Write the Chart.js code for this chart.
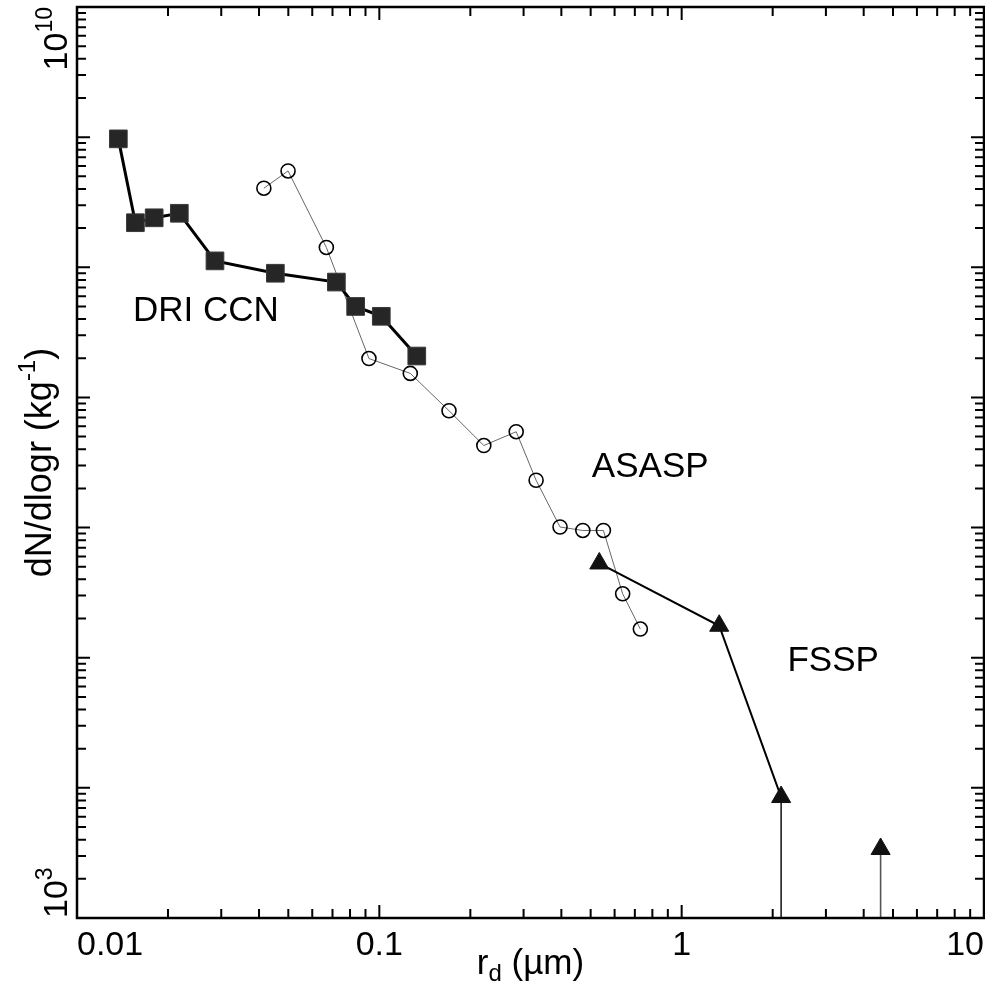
<!DOCTYPE html>
<html>
<head>
<meta charset="utf-8">
<script src="https://cdn.jsdelivr.net/npm/chart.js@4"></script>
<style>
  body { margin: 0; background: #fff; overflow: hidden; }
  #wrap { width: 985px; height: 990px; }
  canvas { display: block; }
</style>
</head>
<body>
<div id="wrap"><canvas id="chart" width="985" height="990"></canvas></div>
<script>
// DRI CCN (filled squares)
const driX = [0.0137, 0.0156, 0.0180, 0.0218, 0.0286, 0.0453, 0.0721, 0.0835, 0.1015, 0.133];
const driY = [9.7e8, 2.2e8, 2.4e8, 2.6e8, 1.12e8, 9.0e7, 7.7e7, 5.0e7, 4.2e7, 2.08e7];

// ASASP (open circles)
const asaspX = [0.0415, 0.0499, 0.0668, 0.0924, 0.1266, 0.170, 0.2216, 0.2836, 0.330, 0.396, 0.471, 0.551, 0.638, 0.730];
const asaspY = [4.05e8, 5.5e8, 1.42e8, 1.99e7, 1.53e7, 7.9e6, 4.27e6, 5.45e6, 2.31e6, 1.01e6, 9.5e5, 9.5e5, 3.1e5, 1.66e5];

// FSSP (filled triangles), last two have drop lines to the axis
const fsspX = [0.534, 1.331, 2.133, 4.55];
const fsspY = [5.3e5, 1.76e5, 8.5e3, 3.39e3];

// axis ranges and tick labels
const xMin = 0.01, xMax = 10;
const yMin = 1e3, yMax = 1e10;
const xTickLabels = [[0.01, '0.01'], [0.1, '0.1'], [1, '1'], [10, '10']];
const yTickLabels = [[1e3, '10', '3'], [1e10, '10', '10']];

// text labels inside the plot (data coords)
const notes = [
  { text: 'DRI CCN', x: 0.0267, y: 4.75e7 },
  { text: 'ASASP', x: 0.787, y: 3.0e6 },
  { text: 'FSSP', x: 3.17, y: 9.66e4 }
];

const FONT = '"Liberation Sans", Arial, Helvetica, sans-serif';

function pts(xs, ys) {
  return xs.map((x, i) => ({ x: x, y: ys[i] }));
}

// frame, inward ticks, labels and titles
const framePlugin = {
  id: 'frame',
  afterDraw(chart) {
    const ctx = chart.ctx;
    const a = chart.chartArea;
    const xs = chart.scales.x, ys = chart.scales.y;
    ctx.save();
    ctx.strokeStyle = '#000';
    ctx.fillStyle = '#000';

    // ticks on all four sides
    ctx.lineWidth = 2;
    ctx.beginPath();
    for (let k = -2; k <= 1; k++) {
      for (let m = 1; m <= 9; m++) {
        const v = m * Math.pow(10, k);
        if (v < xMin * 0.999 || v > xMax * 1.001) continue;
        const px = xs.getPixelForValue(v);
        const len = m === 1 ? 13 : 9;
        ctx.moveTo(px, a.bottom); ctx.lineTo(px, a.bottom - len);
        ctx.moveTo(px, a.top); ctx.lineTo(px, a.top + len);
      }
    }
    for (let k = 3; k <= 10; k++) {
      for (let m = 1; m <= 9; m++) {
        const v = m * Math.pow(10, k);
        if (v < yMin * 0.999 || v > yMax * 1.001) continue;
        const py = ys.getPixelForValue(v);
        const len = m === 1 ? 13 : 9;
        ctx.moveTo(a.left, py); ctx.lineTo(a.left + len, py);
        ctx.moveTo(a.right, py); ctx.lineTo(a.right - len, py);
      }
    }
    ctx.stroke();

    // box
    ctx.lineWidth = 2.5;
    ctx.strokeRect(a.left, a.top, a.right - a.left, a.bottom - a.top);

    // x tick labels
    ctx.font = '34px ' + FONT;
    ctx.textBaseline = 'alphabetic';
    xTickLabels.forEach(([v, t], i) => {
      const px = xs.getPixelForValue(v);
      if (i === 0) { ctx.textAlign = 'left'; ctx.fillText(t, px, 955); }
      else if (i === xTickLabels.length - 1) { ctx.textAlign = 'right'; ctx.fillText(t, px, 955); }
      else { ctx.textAlign = 'center'; ctx.fillText(t, px, 955); }
    });

    // y tick labels, rotated, with superscript exponent
    ctx.textAlign = 'left';
    yTickLabels.forEach(([v, base, exp], i) => {
      ctx.font = '34px ' + FONT;
      const wb = ctx.measureText(base).width;
      ctx.font = '23px ' + FONT;
      const we = ctx.measureText(exp).width;
      const py = ys.getPixelForValue(v);
      const start = i === 0 ? py : py + wb + we;
      ctx.save();
      ctx.translate(67, start);
      ctx.rotate(-Math.PI / 2);
      ctx.font = '34px ' + FONT;
      ctx.fillText(base, 0, 0);
      ctx.font = '23px ' + FONT;
      ctx.fillText(exp, wb, -15);
      ctx.restore();
    });

    // x title: r_d (µm)
    ctx.font = '35px ' + FONT;
    const w1 = ctx.measureText('r').width;
    const w3 = ctx.measureText(' (\u00b5m)').width;
    ctx.font = '24px ' + FONT;
    const w2 = ctx.measureText('d').width;
    let tx = (a.left + a.right) / 2 - (w1 + w2 + w3) / 2;
    ctx.textAlign = 'left';
    ctx.font = '35px ' + FONT;
    ctx.fillText('r', tx, 974);
    ctx.font = '24px ' + FONT;
    ctx.fillText('d', tx + w1, 981);
    ctx.font = '35px ' + FONT;
    ctx.fillText(' (\u00b5m)', tx + w1 + w2, 974);

    // y title: dN/dlogr (kg^-1)
    ctx.font = '36px ' + FONT;
    const p1 = ctx.measureText('dN/dlogr (kg').width;
    const p3 = ctx.measureText(')').width;
    ctx.font = '24px ' + FONT;
    const p2 = ctx.measureText('-1').width;
    ctx.save();
    ctx.translate(51, (a.top + a.bottom) / 2 + (p1 + p2 + p3) / 2);
    ctx.rotate(-Math.PI / 2);
    ctx.font = '36px ' + FONT;
    ctx.fillText('dN/dlogr (kg', 0, 0);
    ctx.font = '24px ' + FONT;
    ctx.fillText('-1', p1, -16);
    ctx.font = '36px ' + FONT;
    ctx.fillText(')', p1 + p2, 0);
    ctx.restore();

    // notes
    ctx.font = '35px ' + FONT;
    ctx.textAlign = 'center';
    ctx.textBaseline = 'middle';
    notes.forEach(n => {
      ctx.fillText(n.text, xs.getPixelForValue(n.x), ys.getPixelForValue(n.y) + 2);
    });
    ctx.restore();
  }
};

new Chart(document.getElementById('chart'), {
  type: 'scatter',
  data: {
    datasets: [
      {
        label: 'DRI CCN',
        data: pts(driX, driY),
        showLine: true,
        borderColor: '#000',
        borderWidth: 3,
        pointStyle: 'rect',
        pointRadius: 12.5,
        pointBackgroundColor: '#262626',
        pointBorderColor: '#3a3a3a',
        pointBorderWidth: 1
      },
      {
        label: 'FSSP',
        data: pts(fsspX, fsspY),
        showLine: true,
        borderColor: '#000',
        borderWidth: 2,
        segment: {
          borderColor: c => c.p1DataIndex === fsspX.length - 1 ? 'rgba(0,0,0,0)' : '#000'
        },
        pointStyle: 'triangle',
        pointRadius: 11,
        pointBackgroundColor: '#111',
        pointBorderColor: '#111',
        pointBorderWidth: 1
      },
      {
        label: 'FSSP limit a',
        data: [{ x: fsspX[2], y: fsspY[2] }, { x: fsspX[2], y: yMin }],
        showLine: true,
        borderColor: '#222',
        borderWidth: 1.6,
        pointRadius: 0
      },
      {
        label: 'FSSP limit b',
        data: [{ x: fsspX[3], y: fsspY[3] }, { x: fsspX[3], y: yMin }],
        showLine: true,
        borderColor: '#555',
        borderWidth: 1.6,
        pointRadius: 0
      },
      {
        label: 'ASASP',
        data: pts(asaspX, asaspY),
        showLine: true,
        borderColor: '#666',
        borderWidth: 1,
        pointStyle: 'circle',
        pointRadius: 7,
        pointBackgroundColor: 'rgba(255,255,255,0)',
        pointBorderColor: '#000',
        pointBorderWidth: 1.6
      }
    ]
  },
  options: {
    responsive: false,
    animation: false,
    layout: { autoPadding: false, padding: { left: 77, right: 1, top: 7, bottom: 72 } },
    plugins: { legend: { display: false }, tooltip: { enabled: false } },
    scales: {
      x: { type: 'logarithmic', min: xMin, max: xMax, display: false },
      y: { type: 'logarithmic', min: yMin, max: yMax, display: false }
    }
  },
  plugins: [framePlugin]
});
</script>
</body>
</html>
